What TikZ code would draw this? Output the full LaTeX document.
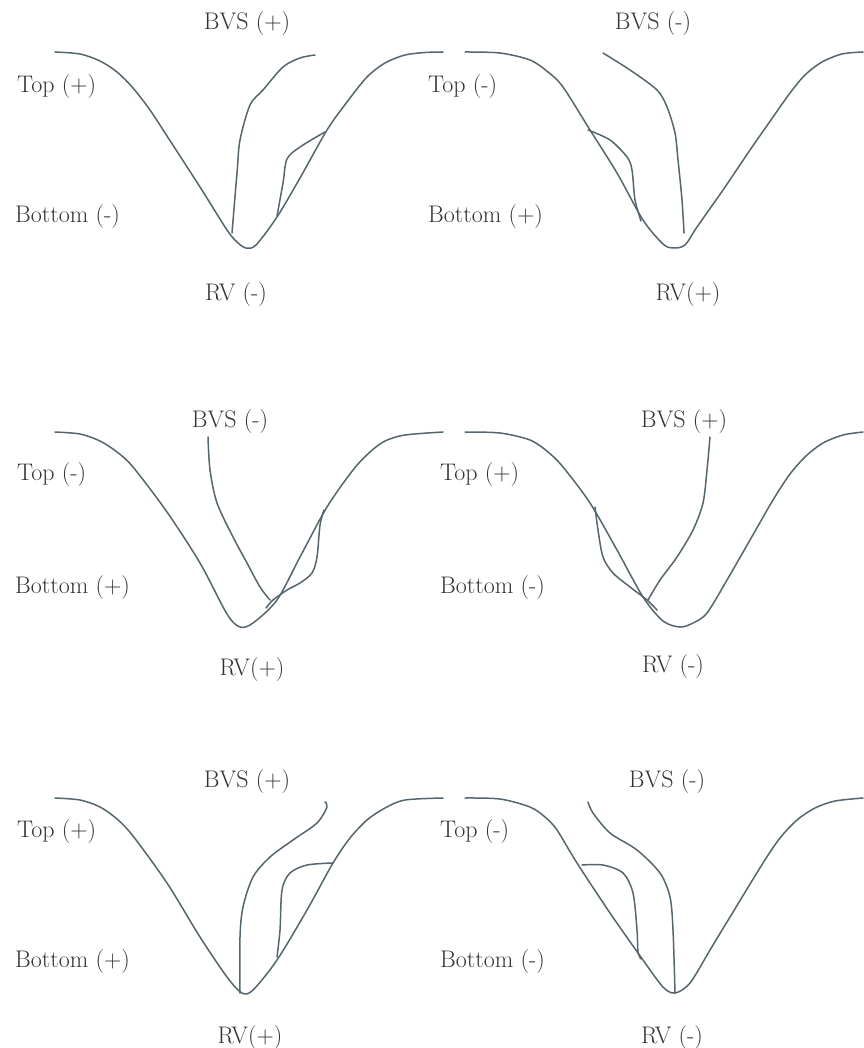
\documentclass[tikz,border=0pt]{standalone}
\usepackage{fontspec}
\setmainfont{Latin Modern Roman}
\definecolor{curvecol}{HTML}{56666D}
\definecolor{labelcol}{HTML}{333333}
\begin{document}
\begin{tikzpicture}[x=1pt,y=-1pt,
  curve/.style={draw=curvecol,line width=1.5pt,line join=round,line cap=round},
  lbl/.style={inner sep=0pt,text=labelcol,font=\fontsize{24}{26}\selectfont},
  lw/.style={lbl,anchor=base west},
  lc/.style={lbl,anchor=base}]
\useasboundingbox[fill=white] (0,0) rectangle (863,1048);

% ---------- Panel 1 ----------
\draw[curve] plot[smooth] coordinates {(55,52) (80,54) (100,61) (117,72) (133,88) (150,110) (167,136) (200,187) (227,230) (237,242) (246,248) (256,245) (277,217) (300,178) (327,130) (347,102) (367,77) (385,63) (405,55) (425,52.5) (443,52)};
\draw[curve] plot[smooth] coordinates {(232,233) (237,173) (240,140) (250,105) (263,90) (283,67) (300,58) (315,55)};
\draw[curve] plot[smooth] coordinates {(277,216) (283,183) (287,159) (300,147) (325,132)};
\node[lc] (bvs1) at (247,30) {BVS (+)};
\node[lw] (top1) at (17,93) {Top (+)};
\node[lw] (bot1) at (15,223) {Bottom (-)};
\node[lc] (rv1) at (236,300) {RV (-)};

% ---------- Panel 2 ----------
\draw[curve] plot[smooth] coordinates {(465,52) (500,53) (530,60) (548,72) (563,87) (590,130) (617,173) (643,220) (663,244) (673,248) (685,245) (697,227) (723,190) (750,150) (773,117) (790,93) (805,75) (822,62) (842,54) (863,52)};
\draw[curve] plot[smooth] coordinates {(603,53) (630,70) (657,90) (667,107) (675,133) (678,160) (682,200) (684,233)};
\draw[curve] plot[smooth] coordinates {(588,130) (610,140) (627,157) (632,170) (635,200) (641,221)};
\node[lc] (bvs2) at (653,30) {BVS (-)};
\node[lw] (top2) at (428,93) {Top (-)};
\node[lw] (bot2) at (428,223) {Bottom (+)};
\node[lc] (rv2) at (688,300) {RV(+)};

% ---------- Panel 3 ----------
\draw[curve] plot[smooth] coordinates {(55,432) (80,434) (100,441) (117,452) (133,467) (167,512) (200,563) (227,614) (240,627) (253,623) (277,600) (300,557) (327,507) (353,470) (370,452) (385,441) (405,435) (443,432)};
\draw[curve] plot[smooth] coordinates {(208,437) (210,470) (217,503) (233,537) (247,563) (260,587) (270,600)};
\draw[curve] plot[smooth] coordinates {(324,510) (320,525) (317,557) (312,573) (300,583) (287,590) (273,600) (266,608)};
\node[lc] (bvs3) at (230,427) {BVS (-)};
\node[lw] (top3) at (17,480) {Top (-)};
\node[lw] (bot3) at (15,593) {Bottom (+)};
\node[lc] (rv3) at (252,675) {RV(+)};

% ---------- Panel 4 ----------
\draw[curve] plot[smooth] coordinates {(465,432) (500,433) (530,440) (548,452) (563,467) (590,503) (617,550) (643,597) (663,621) (680,627) (693,623) (707,613) (727,580) (750,540) (773,500) (790,474) (806,456) (823,443) (843,435) (863,432)};
\draw[curve] plot[smooth] coordinates {(710,437) (707,470) (703,503) (693,530) (677,557) (660,580) (648,600)};
\draw[curve] plot[smooth] coordinates {(595,507) (598,530) (603,557) (613,573) (630,587) (647,600) (657,610)};
\node[lc] (bvs4) at (684,427) {BVS (+)};
\node[lw] (top4) at (440,480) {Top (+)};
\node[lw] (bot4) at (440,593) {Bottom (-)};
\node[lc] (rv4) at (673,672) {RV (-)};

% ---------- Panel 5 ----------
\draw[curve] plot[smooth] coordinates {(55,798) (80,800) (100,807) (117,819) (133,836) (167,883) (200,937) (227,977) (242,993) (253,990) (277,960) (307,910) (333,863) (350,838) (367,820) (385,808) (405,800) (443,798)};
\draw[curve] plot[smooth] coordinates {(240,993) (240,937) (243,907) (253,877) (270,857) (293,840) (317,823) (327,807) (325,802)};
\draw[curve] plot[smooth] coordinates {(277,957) (280,930) (282,890) (290,873) (307,865) (333,863)};
\node[lc] (bvs5) at (247,787) {BVS (+)};
\node[lw] (top5) at (17,837) {Top (+)};
\node[lw] (bot5) at (15,967) {Bottom (+)};
\node[lc] (rv5) at (250,1043) {RV(+)};

% ---------- Panel 6 ----------
\draw[curve] plot[smooth] coordinates {(465,798) (500,799) (530,807) (545,817) (557,830) (577,863) (610,913) (643,960) (663,987) (675,993) (690,983) (710,950) (730,917) (763,863) (780,838) (797,820) (815,808) (835,801) (863,798)};
\draw[curve] plot[smooth] coordinates {(588,802) (593,813) (610,833) (637,850) (660,873) (670,897) (673,930) (675,993)};
\draw[curve] plot[smooth] coordinates {(582,865) (603,865) (623,873) (633,893) (637,930) (638,952) (641,959)};
\node[lc] (bvs6) at (667,787) {BVS (-)};
\node[lw] (top6) at (440,837) {Top (-)};
\node[lw] (bot6) at (440,967) {Bottom (-)};
\node[lc] (rv6) at (672,1043) {RV (-)};
\end{tikzpicture}
\end{document}
